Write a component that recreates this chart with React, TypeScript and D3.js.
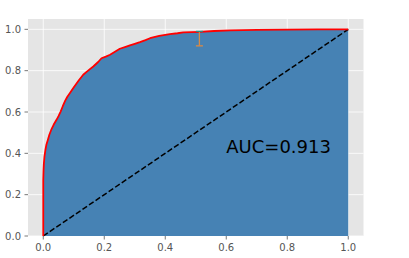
import React from "react";
import * as d3 from "d3";

const fpr = [0, 0, 0.001, 0.002, 0.004, 0.007, 0.01, 0.015, 0.02, 0.026, 0.034, 0.043, 0.05, 0.057, 0.064, 0.072, 0.079, 0.087, 0.098, 0.115, 0.131, 0.147, 0.164, 0.18, 0.191, 0.205, 0.219, 0.235, 0.251, 0.27, 0.284, 0.3, 0.317, 0.335, 0.35, 0.38, 0.415, 0.44, 0.459, 0.514, 0.56, 0.612, 0.7, 0.8, 0.9, 1.0];
const tpr = [0, 0.27, 0.32, 0.35, 0.385, 0.416, 0.44, 0.465, 0.49, 0.513, 0.538, 0.561, 0.58, 0.602, 0.628, 0.655, 0.674, 0.691, 0.715, 0.75, 0.78, 0.8, 0.82, 0.842, 0.86, 0.868, 0.877, 0.892, 0.906, 0.915, 0.922, 0.93, 0.938, 0.948, 0.957, 0.968, 0.977, 0.981, 0.985, 0.988, 0.992, 0.995, 0.997, 0.999, 1.0, 1.0];
const xTicks = [0, 0.2, 0.4, 0.6, 0.8, 1.0];
const yTicks = [0, 0.2, 0.4, 0.6, 0.8, 1.0];
const errX = [0.512];
const errLow = [0.92];
const errHigh = [0.99];
const aucLabel = "AUC=0.913";
const aucPos = [0.6, 0.4];

export default function App() {
  const W = 409, H = 258;
  const left = 28, right = 363.5, top = 19, bottom = 236;
  const x = d3.scaleLinear().domain([-0.05, 1.05]).range([left, right]);
  const y = d3.scaleLinear().domain([0, 1.05]).range([bottom, top]);
  const pts = fpr.map((f, i) => [f, tpr[i]] as [number, number]);
  const area = d3.area<[number, number]>().x(d => x(d[0])).y0(y(0)).y1(d => y(d[1]))(pts) || "";
  const line = d3.line<[number, number]>().x(d => x(d[0])).y(d => y(d[1]))(pts) || "";
  const font = "DejaVu Sans, sans-serif";
  return (
    <svg width={W} height={H} style={{ position: "absolute", left: 0, top: 0 }}>
      <rect x={0} y={0} width={W} height={H} fill="white" />
      <rect x={left} y={top} width={right - left} height={bottom - top} fill="#E5E5E5" />
      {xTicks.map(t => (
        <line key={"gx" + t} x1={x(t)} x2={x(t)} y1={top} y2={bottom} stroke="white" strokeWidth={0.8} />
      ))}
      {yTicks.map(t => (
        <line key={"gy" + t} x1={left} x2={right} y1={y(t)} y2={y(t)} stroke="white" strokeWidth={0.8} />
      ))}
      <path d={area} fill="#4682B4" />
      <line x1={x(0)} y1={y(0)} x2={x(1)} y2={y(1)} stroke="black" strokeWidth={1.5} strokeDasharray="5.5,2.4" />
      <path d={line} fill="none" stroke="#FF0000" strokeWidth={1.8} strokeLinejoin="round" />
      {errX.map((ex, i) => (
        <g key={"e" + i}>
          <line x1={x(ex)} x2={x(ex)} y1={y(errLow[i])} y2={y(errHigh[i])} stroke="#D98A45" strokeWidth={1.3} />
          <line x1={x(ex) - 3.5} x2={x(ex) + 3.5} y1={y(errLow[i])} y2={y(errLow[i])} stroke="#D98A45" strokeWidth={1.3} />
          <line x1={x(ex) - 3.5} x2={x(ex) + 3.5} y1={y(errHigh[i])} y2={y(errHigh[i])} stroke="#2E8B80" strokeWidth={1.3} />
        </g>
      ))}
      <text x={x(aucPos[0])} y={y(aucPos[1])} fontFamily={font} fontSize={18} fill="black">{aucLabel}</text>
      {xTicks.map(t => (
        <g key={"tx" + t}>
          <line x1={x(t)} x2={x(t)} y1={bottom} y2={bottom + 3.5} stroke="#555555" strokeWidth={0.8} />
          <text x={x(t)} y={bottom + 7} dy="0.76em" textAnchor="middle" fontFamily={font} fontSize={10} fill="#555555">{t.toFixed(1)}</text>
        </g>
      ))}
      {yTicks.map(t => (
        <g key={"ty" + t}>
          <line x1={left - 3.5} x2={left} y1={y(t)} y2={y(t)} stroke="#555555" strokeWidth={0.8} />
          <text x={left - 7} y={y(t)} dy="0.36em" textAnchor="end" fontFamily={font} fontSize={10} fill="#555555">{t.toFixed(1)}</text>
        </g>
      ))}
    </svg>
  );
}
